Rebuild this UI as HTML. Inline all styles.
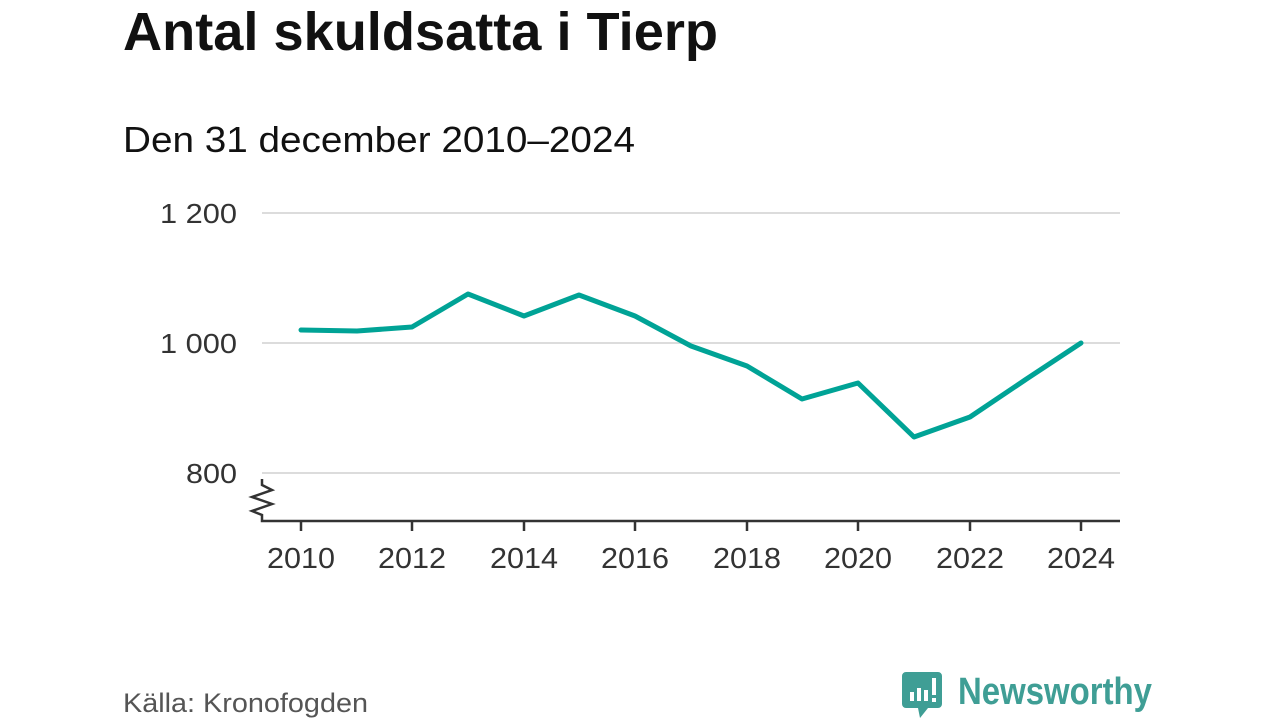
<!DOCTYPE html>
<html><head><meta charset="utf-8"><style>
html,body{margin:0;padding:0;background:#fff;}
svg{display:block;font-family:"Liberation Sans","DejaVu Sans",sans-serif;}
</style></head><body>
<svg width="1280" height="720" viewBox="0 0 1280 720">
<text x="123" y="50" font-size="54" font-weight="bold" fill="#111" textLength="595" lengthAdjust="spacingAndGlyphs">Antal skuldsatta i Tierp</text>
<text x="123" y="152" font-size="36" fill="#111" textLength="512" lengthAdjust="spacingAndGlyphs">Den 31 december 2010–2024</text>
<g stroke="#dcdcdc" stroke-width="2">
<line x1="262" y1="213" x2="1120" y2="213"/>
<line x1="262" y1="343" x2="1120" y2="343"/>
<line x1="262" y1="473" x2="1120" y2="473"/>
</g>
<g font-size="28" fill="#333" text-anchor="end">
<text x="237" y="223" textLength="77" lengthAdjust="spacingAndGlyphs">1 200</text>
<text x="237" y="353" textLength="77" lengthAdjust="spacingAndGlyphs">1 000</text>
<text x="237" y="483" textLength="51" lengthAdjust="spacingAndGlyphs">800</text>
</g>
<g stroke="#333" stroke-width="2.5" fill="none">
<polyline points="262,479 262,485 272,490 252,497 272,504 252,511 262,515 262,521 1120,521"/>
<line x1="301" y1="521" x2="301" y2="531"/><line x1="412" y1="521" x2="412" y2="531"/>
<line x1="524" y1="521" x2="524" y2="531"/><line x1="635" y1="521" x2="635" y2="531"/>
<line x1="747" y1="521" x2="747" y2="531"/><line x1="858" y1="521" x2="858" y2="531"/>
<line x1="970" y1="521" x2="970" y2="531"/><line x1="1081" y1="521" x2="1081" y2="531"/>
</g>
<g font-size="29" fill="#333" text-anchor="middle">
<text x="301" y="568" textLength="68" lengthAdjust="spacingAndGlyphs">2010</text><text x="412" y="568" textLength="68" lengthAdjust="spacingAndGlyphs">2012</text><text x="524" y="568" textLength="68" lengthAdjust="spacingAndGlyphs">2014</text>
<text x="635" y="568" textLength="68" lengthAdjust="spacingAndGlyphs">2016</text><text x="747" y="568" textLength="68" lengthAdjust="spacingAndGlyphs">2018</text><text x="858" y="568" textLength="68" lengthAdjust="spacingAndGlyphs">2020</text>
<text x="970" y="568" textLength="68" lengthAdjust="spacingAndGlyphs">2022</text><text x="1081" y="568" textLength="68" lengthAdjust="spacingAndGlyphs">2024</text>
</g>
<polyline fill="none" stroke="#00a396" stroke-width="5" stroke-linejoin="round" stroke-linecap="round"
points="301,330 357,331 412,327 468,294 524,316 579,295 635,316 691,346 747,366 802,399 858,383 914,437 970,417 1025,380 1081,343"/>
<text x="123" y="712" font-size="27" fill="#555" textLength="245" lengthAdjust="spacingAndGlyphs">Källa: Kronofogden</text>
<g>
<path d="M906,672 h32 a4,4 0 0 1 4,4 v28 a4,4 0 0 1 -4,4 h-10 l-8,10 l-2,-10 h-12 a4,4 0 0 1 -4,-4 v-28 a4,4 0 0 1 4,-4z" fill="#3f9e95"/>
<g fill="#fff"><rect x="910" y="692" width="4" height="9"/><rect x="917" y="688" width="4" height="13"/><rect x="924" y="690" width="4" height="11"/><rect x="932" y="678" width="4" height="17"/><rect x="932" y="698" width="4" height="4"/></g>
<text x="958" y="704" font-size="38" font-weight="bold" fill="#3f9e95" textLength="194" lengthAdjust="spacingAndGlyphs">Newsworthy</text>
</g>
</svg>
</body></html>
